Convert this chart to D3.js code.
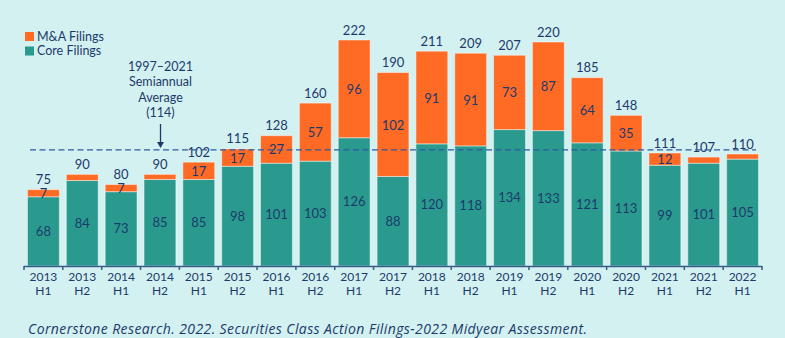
<!DOCTYPE html>
<html>
<head>
<meta charset="utf-8">
<script src="https://cdn.jsdelivr.net/npm/d3@7"></script>
<style>
  body { margin: 0; background: #d4f1f1; }
  svg text { font-family: "Lato", "Open Sans", sans-serif; fill: #1b3a6b; }
</style>
</head>
<body>
<div id="chart"></div>
<script>
// data
var years = ["2013", "2013", "2014", "2014", "2015", "2015", "2016", "2016", "2017", "2017",
             "2018", "2018", "2019", "2019", "2020", "2020", "2021", "2021", "2022"];
var halves = ["H1", "H2", "H1", "H2", "H1", "H2", "H1", "H2", "H1", "H2",
              "H1", "H2", "H1", "H2", "H1", "H2", "H1", "H2", "H1"];
var coreFilings = [68, 84, 73, 85, 85, 98, 101, 103, 126, 88, 120, 118, 134, 133, 121, 113, 99, 101, 105];
var maFilings = [7, 6, 7, 5, 17, 17, 27, 57, 96, 102, 91, 91, 73, 87, 64, 35, 12, 6, 5];
var average = 114;

var width = 785, height = 338;
var baseY = 266;

var svg = d3.select("#chart")
    .append("svg")
    .attr("width", width)
    .attr("height", height);

svg.append("rect").attr("width", width).attr("height", height).attr("fill", "#d4f1f1");

var data = years.map(function(y, i) {
    return { key: y + " " + halves[i], year: y, half: halves[i], core: coreFilings[i], ma: maFilings[i] };
});

var x = d3.scaleBand()
    .domain(data.map(function(d) { return d.key; }))
    .range([24, 762])
    .paddingInner(0.18)
    .paddingOuter(0.09);

var y = d3.scaleLinear()
    .domain([0, 222])
    .range([baseY, 40]);

// bars
var g = svg.selectAll(".bar")
    .data(data)
    .enter()
    .append("g");

g.append("rect")
    .attr("x", function(d) { return x(d.key); })
    .attr("y", function(d) { return y(d.core); })
    .attr("width", x.bandwidth())
    .attr("height", function(d) { return baseY - y(d.core); })
    .attr("fill", "#2a9a8e")
    .attr("stroke", "rgba(255,255,255,0.45)")
    .attr("stroke-width", 1);

g.append("rect")
    .attr("x", function(d) { return x(d.key); })
    .attr("y", function(d) { return y(d.core + d.ma); })
    .attr("width", x.bandwidth())
    .attr("height", function(d) { return y(d.core) - y(d.core + d.ma); })
    .attr("fill", "#ff6a25")
    .attr("stroke", "rgba(255,255,255,0.45)")
    .attr("stroke-width", 1);

// labels
g.append("text")
    .attr("x", function(d) { return x(d.key) + x.bandwidth() / 2; })
    .attr("y", function(d) { return (y(d.core) + baseY) / 2; })
    .attr("dy", "0.35em")
    .attr("text-anchor", "middle")
    .attr("font-size", 13)
    .text(function(d) { return d.core; });

g.filter(function(d) { return d.ma >= 7; })
    .append("text")
    .attr("x", function(d) { return x(d.key) + x.bandwidth() / 2; })
    .attr("y", function(d) { return (y(d.core) + y(d.core + d.ma)) / 2 + 0.5; })
    .attr("dy", "0.35em")
    .attr("text-anchor", "middle")
    .attr("font-size", 13)
    .text(function(d) { return d.ma; });

g.append("text")
    .attr("x", function(d) { return x(d.key) + x.bandwidth() / 2; })
    .attr("y", function(d) { return y(d.core + d.ma) - 10; })
    .attr("dy", "0.35em")
    .attr("text-anchor", "middle")
    .attr("font-size", 13)
    .text(function(d) { return d.core + d.ma; });

// x axis
var axis = svg.append("g");
axis.append("line")
    .attr("x1", 24).attr("x2", 762)
    .attr("y1", baseY + 0.5).attr("y2", baseY + 0.5)
    .attr("stroke", "#3a5a8a").attr("stroke-width", 1.5);

var edges = data.map(function(d) { return x(d.key) - x.step() * x.paddingInner() / 2; });
edges.push(762);
edges[0] = 24;
axis.selectAll(".tick")
    .data(edges)
    .enter()
    .append("line")
    .attr("x1", function(d) { return d; })
    .attr("x2", function(d) { return d; })
    .attr("y1", baseY)
    .attr("y2", baseY + 4)
    .attr("stroke", "#3a5a8a")
    .attr("stroke-width", 1.5);

var tl = axis.selectAll(".tl")
    .data(data)
    .enter()
    .append("text")
    .attr("text-anchor", "middle")
    .attr("font-size", 12)
    .attr("x", function(d) { return x(d.key) + x.bandwidth() / 2; });
tl.append("tspan").attr("y", 280.5).text(function(d) { return d.year; });
tl.append("tspan")
    .attr("x", function(d) { return x(d.key) + x.bandwidth() / 2; })
    .attr("y", 294.5).text(function(d) { return d.half; });

// average line
svg.append("line")
    .attr("x1", 30).attr("x2", 756)
    .attr("y1", y(average)).attr("y2", y(average))
    .attr("stroke", "#2e5aa0")
    .attr("stroke-width", 1.3)
    .attr("stroke-dasharray", "6,3.5");

// annotation
var ax = 160.5;
var ann = svg.append("text")
    .attr("text-anchor", "middle")
    .attr("font-size", 12.5);
["1997\u20132021", "Semiannual", "Average", "(" + average + ")"].forEach(function(t, i) {
    ann.append("tspan").attr("x", ax).attr("y", 71 + i * 15.3).text(t);
});
svg.append("line")
    .attr("x1", ax).attr("x2", ax)
    .attr("y1", 124).attr("y2", 143)
    .attr("stroke", "#1b3a6b").attr("stroke-width", 1.3);
svg.append("path")
    .attr("d", "M" + (ax - 3.5) + ",142 L" + (ax + 3.5) + ",142 L" + ax + ",148 Z")
    .attr("fill", "#1b3a6b");

// legend
var legend = [{ name: "M&A Filings", color: "#ff6a25" }, { name: "Core Filings", color: "#2a9a8e" }];
var lg = svg.selectAll(".lg")
    .data(legend)
    .enter()
    .append("g")
    .attr("transform", function(d, i) { return "translate(25," + (32 + i * 14.5) + ")"; });
lg.append("rect").attr("width", 9).attr("height", 9).attr("fill", function(d) { return d.color; });
lg.append("text")
    .attr("x", 12).attr("y", 4.5).attr("dy", "0.35em")
    .attr("font-size", 12.5)
    .text(function(d) { return d.name; });

// source
svg.append("text")
    .attr("x", 28).attr("y", 334)
    .attr("font-size", 14)
    .attr("font-style", "italic")
    .attr("letter-spacing", 0.4)
    .style("font-family", "'Open Sans', sans-serif")
    .text("Cornerstone Research. 2022. Securities Class Action Filings-2022 Midyear Assessment.");
</script>
</body>
</html>
